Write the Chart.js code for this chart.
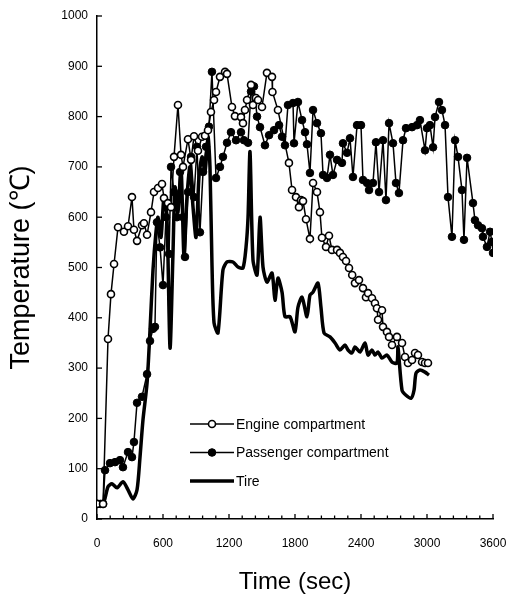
<!DOCTYPE html>
<html>
<head>
<meta charset="utf-8">
<script src="https://cdn.jsdelivr.net/npm/chart.js@4/dist/chart.umd.min.js"></script>
<style>
  body { margin: 0; background: #fff; }
</style>
</head>
<body>
<canvas id="myChart" width="508" height="594"></canvas>
<script>
// x ticks (sec) and y ticks (deg C)
const xLabels = [0, 600, 1200, 1800, 2400, 3000, 3600];
const yTicks = [0, 100, 200, 300, 400, 500, 600, 700, 800, 900, 1000];

// Engine compartment
const engineTime = [0, 55, 100, 127, 155, 191, 245, 282, 318, 336, 364, 409, 427, 455, 491, 518, 555, 591, 609, 645,
  673, 700, 736, 764, 782, 827, 855, 882, 918, 955, 982, 1009, 1036, 1064, 1082, 1118, 1164, 1182, 1227, 1254,
  1309, 1327, 1345, 1364, 1400, 1418, 1445, 1464, 1500, 1545, 1591, 1595, 1645, 1745, 1773, 1809, 1836, 1855, 1873, 1900,
  1936, 1964, 2000, 2027, 2045, 2082, 2109, 2136, 2182, 2209, 2236, 2264, 2291, 2320, 2345, 2382, 2418, 2445, 2464, 2500,
  2527, 2545, 2555, 2591, 2600, 2636, 2655, 2682, 2727, 2773, 2800, 2827, 2864, 2891, 2918, 2955, 2982, 3009];
const engineTemp = [30, 30, 358, 447, 507, 580, 571, 582, 640, 575, 553, 584, 588, 565, 610, 650, 658, 666, 638, 628,
  620, 720, 823, 724, 700, 755, 714, 761, 732, 760, 762, 773, 809, 833, 849, 879, 889, 885, 819, 801,
  799, 787, 813, 833, 863, 823, 837, 833, 819, 887, 879, 849, 813, 708, 654, 640, 620, 634, 632, 596,
  557, 668, 650, 610, 559, 541, 563, 535, 535, 529, 521, 513, 499, 485, 469, 475, 459, 441, 449, 439,
  429, 419, 396, 415, 382, 372, 362, 346, 362, 350, 322, 310, 316, 330, 326, 312, 310, 310];

// Passenger compartment
const passTime = [0, 30, 55, 73, 118, 164, 209, 236, 282, 318, 336, 364, 409, 455, 482, 509, 527, 545, 573, 600,
  627, 655, 673, 700, 727, 755, 782, 800, 827, 855, 882, 909, 936, 964, 991, 1018, 1045, 1082, 1118, 1145,
  1182, 1218, 1264, 1309, 1336, 1373, 1400, 1427, 1455, 1482, 1527, 1564, 1609, 1655, 1682, 1709, 1736, 1782, 1791, 1827,
  1864, 1891, 1909, 1936, 1964, 2000, 2036, 2055, 2091, 2118, 2145, 2182, 2227, 2236, 2273, 2300, 2327, 2364, 2400, 2418,
  2455, 2473, 2509, 2536, 2564, 2600, 2627, 2655, 2691, 2718, 2745, 2782, 2809, 2864, 2909, 2936, 2982, 3000, 3027, 3055,
  3073, 3109, 3136, 3164, 3191, 3227, 3255, 3282, 3318, 3336, 3364, 3418, 3436, 3464, 3500, 3509, 3545, 3573, 3591, 3600];
const passTemp = [30, 30, 30, 97, 111, 113, 117, 103, 133, 123, 153, 231, 243, 288, 354, 378, 382, 590, 540, 465,
  600, 527, 700, 650, 600, 690, 600, 521, 650, 720, 640, 740, 570, 690, 740, 780, 889, 678, 700, 720,
  748, 769, 753, 769, 753, 748, 850, 860, 800, 779, 743, 763, 773, 783, 760, 743, 823, 827, 747, 829,
  793, 769, 745, 688, 813, 787, 767, 684, 678, 724, 684, 714, 708, 747, 728, 757, 680, 783, 783, 674,
  668, 654, 668, 749, 650, 753, 634, 787, 747, 668, 648, 753, 777, 779, 783, 793, 733, 777, 783, 739,
  799, 829, 813, 783, 640, 561, 753, 720, 654, 555, 718, 628, 594, 584, 578, 561, 541, 571, 551, 529];

// Tire
const tireTime = [0, 55, 100, 136, 182, 236, 282, 327, 364, 391, 418, 455, 482, 509, 536, 555, 582, 609, 636, 664,
  691, 709, 736, 764, 791, 818, 845, 873, 900, 927, 955, 982, 1009, 1027, 1045, 1064, 1100, 1145, 1182, 1236,
  1282, 1327, 1355, 1373, 1391, 1418, 1455, 1482, 1509, 1545, 1591, 1618, 1645, 1682, 1709, 1755, 1800, 1827, 1864, 1909,
  1936, 1964, 2009, 2036, 2064, 2118, 2164, 2209, 2255, 2282, 2318, 2345, 2391, 2436, 2464, 2500, 2527, 2555, 2591, 2636,
  2682, 2727, 2736, 2773, 2809, 2855, 2882, 2900, 2936, 2982, 3018];
const tireTemp = [30, 30, 64, 70, 62, 74, 58, 40, 58, 123, 197, 270, 376, 495, 570, 600, 560, 640, 600, 340,
  530, 660, 610, 700, 520, 640, 700, 620, 560, 680, 720, 690, 760, 700, 509, 390, 370, 495, 511, 511,
  501, 499, 541, 600, 730, 515, 485, 600, 501, 471, 489, 435, 479, 451, 402, 402, 372, 421, 441, 402,
  445, 451, 469, 421, 370, 362, 350, 336, 346, 336, 330, 342, 332, 350, 326, 336, 326, 332, 320, 326,
  312, 310, 342, 256, 246, 240, 256, 290, 296, 292, 286];

const toPoints = (xs, ys) => xs.map((x, i) => ({ x: x, y: ys[i] }));
const font = "'Liberation Sans', Arial, sans-serif";

// tick marks pointing into the plot, plus the legend inside the plot
const insidePlugin = {
  id: "inside",
  afterDraw(chart) {
    const { ctx, chartArea, scales } = chart;
    ctx.save();
    ctx.strokeStyle = "#000";
    ctx.lineWidth = 1.3;
    scales.y.ticks.forEach((t) => {
      const py = scales.y.getPixelForValue(t.value);
      ctx.beginPath();
      ctx.moveTo(chartArea.left, py);
      ctx.lineTo(chartArea.left + 5, py);
      ctx.stroke();
    });
    scales.x.ticks.forEach((t) => {
      const px = scales.x.getPixelForValue(t.value);
      const len = t.value % 600 === 0 ? 5 : 3.5;
      ctx.beginPath();
      ctx.moveTo(px, chartArea.bottom);
      ctx.lineTo(px, chartArea.bottom - len);
      ctx.stroke();
    });

    const items = chart.data.datasets;
    const lx = chartArea.left + 93;
    let ly = chartArea.top + 408;
    ctx.font = "14px " + font;
    ctx.textBaseline = "middle";
    ctx.fillStyle = "#000";
    [items[0], items[1], items[2]].forEach((ds) => {
      ctx.strokeStyle = "#000";
      ctx.lineWidth = ds.borderWidth;
      ctx.beginPath();
      ctx.moveTo(lx, ly);
      ctx.lineTo(lx + 44, ly);
      ctx.stroke();
      if (ds.pointRadius > 0) {
        ctx.beginPath();
        ctx.arc(lx + 22, ly, ds.pointRadius, 0, Math.PI * 2);
        ctx.fillStyle = ds.pointBackgroundColor;
        ctx.fill();
        ctx.lineWidth = ds.pointBorderWidth;
        ctx.stroke();
      }
      ctx.fillStyle = "#000";
      ctx.fillText(ds.label, lx + 46, ly + 1);
      ly += 28.5;
    });
    ctx.restore();
  },
};

new Chart(document.getElementById("myChart"), {
  type: "line",
  data: {
    datasets: [
      {
        label: "Engine compartment",
        data: toPoints(engineTime, engineTemp),
        borderColor: "#000",
        borderWidth: 1.5,
        pointRadius: 3.5,
        pointBackgroundColor: "#fff",
        pointBorderColor: "#000",
        pointBorderWidth: 1.6,
        tension: 0,
        order: 0,
      },
      {
        label: "Passenger compartment",
        data: toPoints(passTime, passTemp),
        borderColor: "#000",
        borderWidth: 1.5,
        pointRadius: 3.8,
        pointBackgroundColor: "#000",
        pointBorderColor: "#000",
        pointBorderWidth: 1,
        tension: 0,
        order: 1,
      },
      {
        label: "Tire",
        data: toPoints(tireTime, tireTemp),
        borderColor: "#000",
        borderWidth: 3.5,
        pointRadius: 0,
        tension: 0.25,
        order: 2,
      },
    ],
  },
  options: {
    responsive: false,
    animation: false,
    layout: { padding: { top: 16, right: 15, left: 0, bottom: 0 } },
    plugins: { legend: { display: false }, tooltip: { enabled: false } },
    scales: {
      x: {
        type: "linear",
        min: 0,
        max: 3600,
        afterFit: (s) => { s.height = 75; s.paddingLeft = 0; s.paddingRight = 0; },
        grid: { drawOnChartArea: false, drawTicks: false },
        border: { color: "#000", width: 1.5 },
        ticks: {
          stepSize: 120,
          autoSkip: false,
          maxRotation: 0,
          padding: 17,
          color: "#000",
          font: { family: font, size: 12 },
          callback: (v) => (xLabels.includes(v) ? String(v) : ""),
        },
        title: {
          display: true,
          text: "Time (sec)",
          color: "#000",
          font: { family: font, size: 24, lineHeight: 1 },
          padding: { top: 0, bottom: 0 },
        },
      },
      y: {
        min: 0,
        max: 1000,
        afterFit: (s) => { s.width = 97; s.paddingTop = 0; s.paddingBottom = 0; },
        afterBuildTicks: (s) => { s.ticks = yTicks.map((v) => ({ value: v })); },
        grid: { drawOnChartArea: false, drawTicks: false },
        border: { color: "#000", width: 1.5 },
        ticks: {
          padding: 9,
          color: "#000",
          font: { family: font, size: 12 },
          callback: (v) => String(v),
        },
        title: {
          display: true,
          text: "Temperature (\u2103)",
          color: "#000",
          font: { family: font, size: 27, lineHeight: 1 },
          padding: { top: 8, bottom: 0 },
        },
      },
    },
  },
  plugins: [insidePlugin],
});
</script>
</body>
</html>
